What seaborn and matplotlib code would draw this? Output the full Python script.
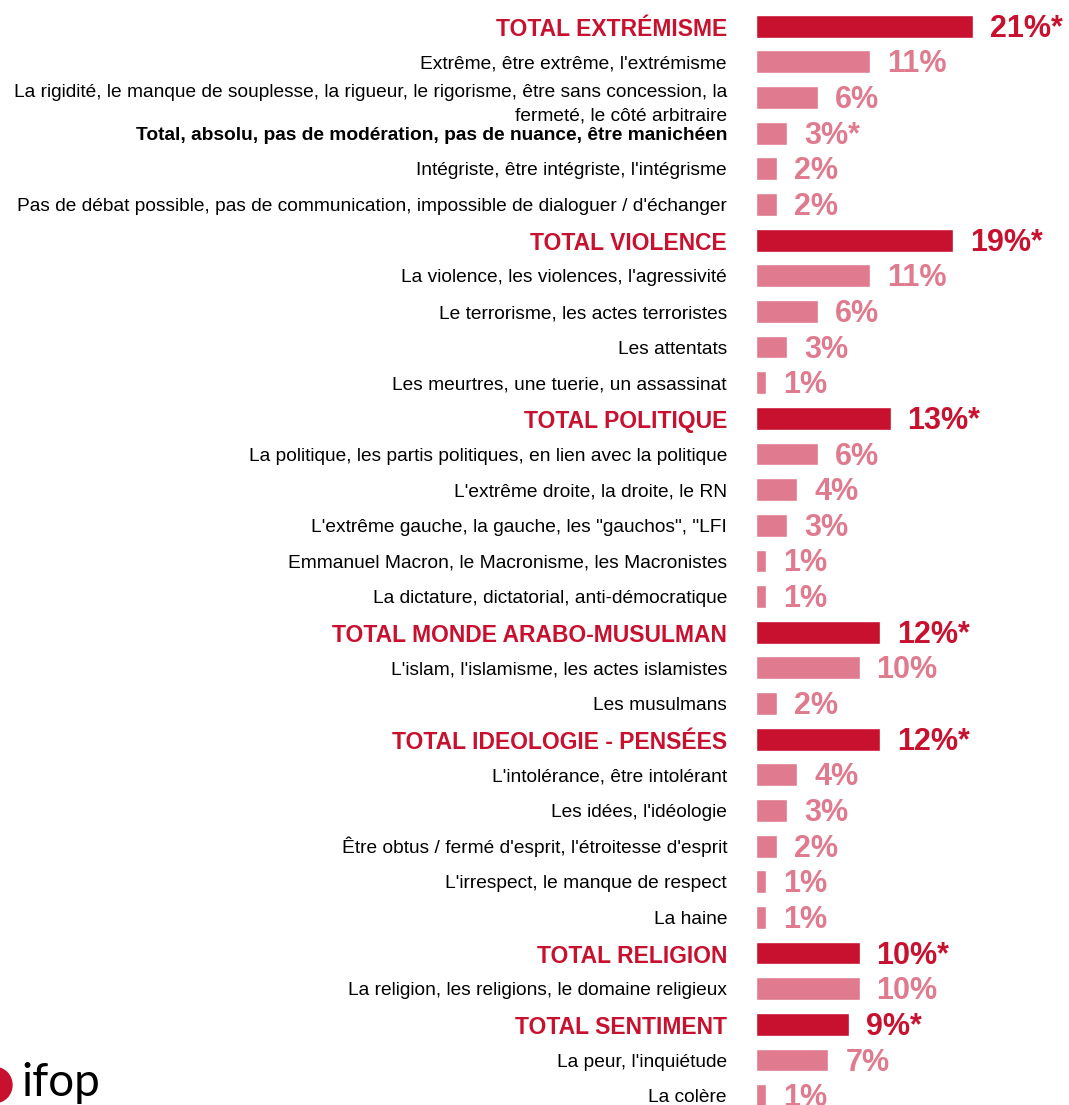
import matplotlib
matplotlib.use("Agg")
import matplotlib.pyplot as plt
import matplotlib.font_manager as fm
import matplotlib.transforms as mtransforms
from matplotlib.patches import Circle
import seaborn as sns
import pandas as pd

# ---------------- data ----------------
categories = [
    "TOTAL EXTRÉMISME",
    "Extrême, être extrême, l'extrémisme",
    "La rigidité, le manque de souplesse, la rigueur, le rigorisme, être sans concession, la\nfermeté, le côté arbitraire",
    "Total, absolu, pas de modération, pas de nuance, être manichéen",
    "Intégriste, être intégriste, l'intégrisme",
    "Pas de débat possible, pas de communication, impossible de dialoguer / d'échanger",
    "TOTAL VIOLENCE",
    "La violence, les violences, l'agressivité",
    "Le terrorisme, les actes terroristes",
    "Les attentats",
    "Les meurtres, une tuerie, un assassinat",
    "TOTAL POLITIQUE",
    "La politique, les partis politiques, en lien avec la politique",
    "L'extrême droite, la droite, le RN",
    "L'extrême gauche, la gauche, les \"gauchos\", \"LFI",
    "Emmanuel Macron, le Macronisme, les Macronistes",
    "La dictature, dictatorial, anti-démocratique",
    "TOTAL MONDE ARABO-MUSULMAN",
    "L'islam, l'islamisme, les actes islamistes",
    "Les musulmans",
    "TOTAL IDEOLOGIE - PENSÉES",
    "L'intolérance, être intolérant",
    "Les idées, l'idéologie",
    "Être obtus / fermé d'esprit, l'étroitesse d'esprit",
    "L'irrespect, le manque de respect",
    "La haine",
    "TOTAL RELIGION",
    "La religion, les religions, le domaine religieux",
    "TOTAL SENTIMENT",
    "La peur, l'inquiétude",
    "La colère",
]
values = [21, 11, 6, 3, 2, 2,
          19, 11, 6, 3, 1,
          13, 6, 4, 3, 1, 1,
          12, 10, 2,
          12, 4, 3, 2, 1, 1,
          10, 10,
          9, 7, 1]
value_labels = ["21%*", "11%", "6%", "3%*", "2%", "2%",
                "19%*", "11%", "6%", "3%", "1%",
                "13%*", "6%", "4%", "3%", "1%", "1%",
                "12%*", "10%", "2%",
                "12%*", "4%", "3%", "2%", "1%", "1%",
                "10%*", "10%",
                "9%*", "7%", "1%"]
kinds = ["total", "detail", "detail", "bold", "detail", "detail",
         "total", "detail", "detail", "detail", "detail",
         "total", "detail", "detail", "detail", "detail", "detail",
         "total", "detail", "detail",
         "total", "detail", "detail", "detail", "detail", "detail",
         "total", "detail",
         "total", "detail", "detail"]

DARK = "#C8102F"
PINK = "#E07A8F"

df = pd.DataFrame({"label": categories, "value": values,
                   "group": ["total" if k == "total" else "detail" for k in kinds]})

# ---------------- style ----------------
sns.set_style("white")
names = {f.name for f in fm.fontManager.ttflist}
base_font = "Liberation Sans" if "Liberation Sans" in names else "DejaVu Sans"
plt.rcParams["font.family"] = [base_font, "DejaVu Sans"]

W, H = 1069, 1105
fig = plt.figure(figsize=(W / 100, H / 100), dpi=100)
ax_left = 756 / W
ax = fig.add_axes([ax_left, -0.0077, 1 - ax_left, 1.0001])

sns.barplot(data=df, x="value", y="label", hue="group",
            palette={"total": DARK, "detail": PINK},
            dodge=False, width=0.64, legend=False, saturation=1, ax=ax)

px_per_unit = 10.35
ax.set_xlim(0, (W - 756) / px_per_unit)
ax.set_ylim(len(categories) - 0.5, -0.5)
for s in ax.spines.values():
    s.set_visible(False)
ax.set_xticks([])
ax.set_xlabel("")
ax.set_ylabel("")
ax.tick_params(axis="y", length=0, labelleft=False)


def lab_transform(dy_px):
    # x in axes coords, y in data; shifted 29 px left and dy_px down
    return mtransforms.offset_copy(ax.get_yaxis_transform(), fig=fig,
                                   x=-29, y=-dy_px, units="dots")


# category labels (baseline-aligned so the caps sit centred on the bars)
for i, (cat, kind) in enumerate(zip(categories, kinds)):
    kw = dict(ha="right", va="baseline", color="black", fontsize=13.8)
    base = 6.6
    if kind == "total":
        kw.update(fontweight="bold", color=DARK, fontsize=16.5)
        base = 9.5
    elif kind == "bold":
        kw.update(fontweight="bold")
    lines = cat.split("\n")
    if len(lines) == 1:
        ax.text(0, i, cat, transform=lab_transform(base), **kw)
    else:
        for j, line in enumerate(lines):
            ax.text(0, i, line, transform=lab_transform(-0.8 + 24 * j), **kw)

# value labels
val_tr = mtransforms.offset_copy(ax.transData, fig=fig, x=17, y=-10.5, units="dots")
for i, (v, lab, kind) in enumerate(zip(values, value_labels, kinds)):
    ax.text(v, i, lab, va="baseline", ha="left", fontsize=22, transform=val_tr,
            fontweight="bold", color=DARK if kind == "total" else PINK)

# logo
fig.patches.append(Circle((-5 / W, 1 - 1085 / H), 17 / W, transform=fig.transFigure,
                          color=DARK, zorder=5))
logo_font = "Lato" if "Lato" in names else base_font
fig.text(21 / W, 1 - 1096 / H, "ifop", fontsize=33, family=logo_font,
         fontweight="normal", color="black", ha="left", va="baseline")

fig.savefig("out.png", dpi=100)
